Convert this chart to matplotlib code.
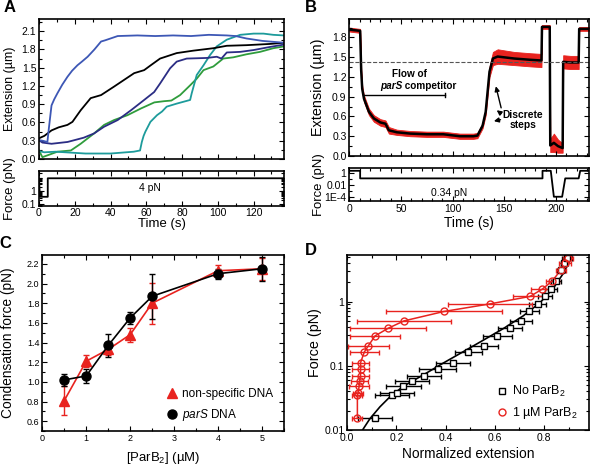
import matplotlib
matplotlib.use("Agg")
import matplotlib.pyplot as plt
from matplotlib import font_manager
from matplotlib.lines import Line2D
from matplotlib.ticker import AutoMinorLocator, FixedLocator, NullFormatter

plt.rcParams['font.family'] = ['Liberation Sans', 'DejaVu Sans']
plt.rcParams['mathtext.fontset'] = 'custom'
plt.rcParams['mathtext.rm'] = 'Liberation Sans'
plt.rcParams['mathtext.it'] = 'Liberation Sans:italic'
plt.rcParams['mathtext.bf'] = 'Liberation Sans:bold'

# axis labels in the reference use a condensed face
try:
    font_manager.findfont('Liberation Sans Narrow', fallback_to_default=False)
    LAB, LSCALE = 'Liberation Sans Narrow', 1.0
except ValueError:
    LAB, LSCALE = 'Liberation Sans', 0.9

# ---- panel A: extension traces (time s, extension um) ----
a_blue_t = [0, 2, 4.7, 5.5, 7, 8.5, 10.3, 13, 15.9, 18.5, 21.5, 24, 27.2, 31, 34.7, 37, 44, 55, 65, 75, 85, 95, 105, 110, 116, 125, 137]
a_blue_y = [0.31, 0.30, 0.28, 0.5, 0.88, 0.98, 1.08, 1.22, 1.35, 1.45, 1.54, 1.60, 1.68, 1.80, 1.93, 1.95, 2.02, 2.03, 2.02, 2.03, 2.02, 2.04, 2.03, 2.02, 1.98, 1.94, 1.91]
a_black_t = [0, 3, 7, 11, 15.9, 18.7, 23.3, 28.9, 34.7, 42, 47.6, 53.2, 58.8, 62.5, 67.7, 77, 86.3, 97.5, 105, 116, 129, 137]
a_black_y = [0.34, 0.38, 0.47, 0.52, 0.56, 0.61, 0.80, 1.0, 1.05, 1.19, 1.30, 1.41, 1.46, 1.54, 1.65, 1.74, 1.78, 1.82, 1.86, 1.87, 1.89, 1.91]
a_navy_t = [0, 1.9, 7, 16, 25, 30.8, 36.4, 44, 51.4, 58.8, 64.4, 67.7, 73.3, 77, 82.6, 93.8, 99.4, 102, 105, 112.5, 120, 129, 137]
a_navy_y = [0.31, 0.27, 0.25, 0.28, 0.35, 0.42, 0.53, 0.64, 0.80, 0.97, 1.10, 1.24, 1.49, 1.60, 1.65, 1.66, 1.68, 1.65, 1.75, 1.76, 1.79, 1.84, 1.88]
a_green_t = [0, 1.9, 4.7, 10.3, 17.8, 23.3, 30.8, 36.4, 42, 49.5, 57, 64.5, 70, 74, 78.9, 84.5, 88.2, 92, 97.5, 103, 108.6, 116, 123.6, 131, 137]
a_green_y = [0.14, 0.03, 0.06, 0.12, 0.14, 0.25, 0.42, 0.56, 0.64, 0.72, 0.83, 0.93, 0.95, 0.96, 1.05, 1.21, 1.32, 1.46, 1.52, 1.65, 1.67, 1.72, 1.76, 1.82, 1.85]
a_teal_t = [0, 3, 9.4, 26, 40, 53, 56.5, 57.5, 58.5, 59.5, 62.3, 66, 68.8, 71.4, 77, 84.5, 85.4, 88.2, 92, 95.7, 99.4, 105, 112.5, 120, 125.5, 131, 137]
a_teal_y = [0.13, 0.11, 0.12, 0.09, 0.09, 0.12, 0.14, 0.28, 0.38, 0.45, 0.61, 0.72, 0.78, 0.86, 0.91, 0.97, 1.08, 1.38, 1.54, 1.71, 1.85, 1.96, 2.04, 2.06, 2.06, 2.04, 2.03]
a_force_t = [0, 0.5, 4.9, 4.9, 137]
a_force_f = [8.2, 0.36, 0.36, 8.2, 8.2]

# ---- panel B: mean extension and noise half width ----
b_t = [0, 5, 10.5, 11.5, 12.5, 14.2, 19, 23.8, 30, 35, 38.3, 46, 59, 75, 91, 107, 120, 124, 129, 132, 134, 135.7, 139, 143.6, 159.6, 175.7, 186, 186.5, 194, 194.5, 198, 202, 206.5, 207, 214, 222, 222.5, 232]
b_ext = [1.92, 1.91, 1.90, 1.3, 1.02, 0.87, 0.67, 0.57, 0.51, 0.49, 0.39, 0.36, 0.34, 0.33, 0.33, 0.30, 0.30, 0.31, 0.46, 0.67, 1.0, 1.28, 1.48, 1.51, 1.48, 1.46, 1.45, 1.96, 1.96, 0.16, 0.2, 0.15, 0.12, 1.43, 1.42, 1.42, 1.93, 1.93]
b_noise = [0.03, 0.03, 0.03, 0.04, 0.05, 0.05, 0.05, 0.05, 0.05, 0.05, 0.05, 0.04, 0.04, 0.04, 0.04, 0.04, 0.04, 0.04, 0.04, 0.05, 0.07, 0.08, 0.10, 0.11, 0.10, 0.10, 0.10, 0.03, 0.03, 0.10, 0.14, 0.10, 0.07, 0.10, 0.10, 0.10, 0.03, 0.03]
b_force_t = [0, 10.5, 10.5, 187, 187, 195, 198, 206, 209, 222, 223.5, 232]
b_force_f = [2.4, 2.4, 0.126, 0.126, 2.4, 2.4, 1e-4, 1e-4, 0.126, 0.126, 2.4, 2.4]

# ---- panel C: condensation force ----
c_conc = [0.5, 1, 1.5, 2, 2.5, 4, 5]
c_nonspec = [0.81, 1.21, 1.33, 1.48, 1.80, 2.13, 2.15]
c_nonspec_err = [0.15, 0.06, 0.06, 0.07, 0.21, 0.06, 0.11]
c_pars = [1.02, 1.06, 1.37, 1.65, 1.87, 2.10, 2.15]
c_pars_err = [0.06, 0.07, 0.12, 0.06, 0.23, 0.05, 0.12]

# ---- panel D: force-extension ----
d_force = [0.0153, 0.0352, 0.0383, 0.0486, 0.0589, 0.0703, 0.090, 0.112, 0.163, 0.206, 0.292, 0.385, 0.50, 0.70, 0.92, 1.20, 1.56, 2.10, 3.12, 4.05, 4.74]
d_noparb = [0.113, 0.181, 0.201, 0.228, 0.262, 0.313, 0.368, 0.431, 0.491, 0.556, 0.610, 0.662, 0.705, 0.741, 0.775, 0.804, 0.829, 0.849, 0.869, 0.883, 0.893]
d_noparb_err = [0.07, 0.07, 0.07, 0.07, 0.07, 0.07, 0.075, 0.07, 0.055, 0.055, 0.06, 0.05, 0.045, 0.04, 0.035, 0.03, 0.025, 0.02, 0.015, 0.015, 0.02]
d_parb = [0.041, 0.041, 0.045, 0.048, 0.050, 0.054, 0.054, 0.054, 0.069, 0.086, 0.113, 0.167, 0.231, 0.393, 0.581, 0.743, 0.793, 0.834, 0.869, 0.886, 0.896]
d_parb_err = [0.02, 0.02, 0.02, 0.04, 0.035, 0.035, 0.035, 0.035, 0.06, 0.085, 0.10, 0.155, 0.19, 0.235, 0.17, 0.07, 0.045, 0.025, 0.02, 0.025, 0.02]
d_fit_x = [0.062, 0.092, 0.133, 0.174, 0.228, 0.309, 0.39, 0.472, 0.553, 0.635, 0.716, 0.784, 0.838, 0.879, 0.906, 0.913]
d_fit_f = [0.01, 0.015, 0.023, 0.033, 0.048, 0.072, 0.11, 0.166, 0.25, 0.38, 0.60, 0.96, 1.61, 2.76, 4.4, 5.1]

W, H = 590, 467
fig = plt.figure(figsize=(W / 100, H / 100), dpi=100)


def rect(l, t, r, b):
    return [l / W, 1 - b / H, (r - l) / W, (b - t) / H]


def style(ax, size=7.5):
    ax.tick_params(which='both', direction='in', top=True, right=True, labelsize=size, width=0.8, pad=2)
    ax.tick_params(which='major', length=3.5)
    ax.tick_params(which='minor', length=2)
    for s in ax.spines.values():
        s.set_linewidth(1.2)


def ylab(ax, text, size, xc):
    ax.set_ylabel(text, fontsize=size * LSCALE, family=LAB)
    ax.yaxis.set_label_coords(xc, 0.5)


def xlab(ax, text, size, yc):
    ax.set_xlabel(text, fontsize=size * LSCALE, family=LAB)
    ax.xaxis.set_label_coords(0.5, yc)


# ---------- A ----------
axA = fig.add_axes(rect(39, 19, 284, 159))
for tt, yy, col in [(a_green_t, a_green_y, '#2f9c3c'), (a_teal_t, a_teal_y, '#1d9b9b'),
                    (a_navy_t, a_navy_y, '#2b2d84'), (a_black_t, a_black_y, 'black'),
                    (a_blue_t, a_blue_y, '#3d57b5')]:
    axA.plot(tt, yy, color=col, lw=1.3)
axA.set_xlim(0, 137)
axA.set_ylim(0, 2.3)
axA.set_yticks([0, 0.3, 0.6, 0.9, 1.2, 1.5, 1.8, 2.1])
axA.set_yticklabels(['0.0', '0.3', '0.6', '0.9', '1.2', '1.5', '1.8', '2.1'])
axA.set_xticks(range(0, 140, 20))
axA.xaxis.set_minor_locator(AutoMinorLocator(2))
axA.yaxis.set_minor_locator(AutoMinorLocator(2))
axA.set_xticklabels([])
style(axA)
ylab(axA, 'Extension (µm)', 10, -0.095)

axAf = fig.add_axes(rect(39, 171, 284, 205.7))
axAf.plot(a_force_t, a_force_f, color='black', lw=1.3)
axAf.set_yscale('log')
axAf.set_xlim(0, 137)
axAf.set_ylim(0.08, 28)
axAf.yaxis.set_major_locator(FixedLocator([0.1, 1]))
axAf.set_yticklabels(['0.1', '1'])
axAf.yaxis.set_minor_formatter(NullFormatter())
axAf.set_xticks(range(0, 140, 20))
axAf.xaxis.set_minor_locator(AutoMinorLocator(2))
style(axAf)
axAf.text(62, 1.5, '4 pN', ha='center', va='center', fontsize=7.5)
ylab(axAf, 'Force (pN)', 10.5, -0.095)
xlab(axAf, 'Time (s)', 10.5, -0.35)

# ---------- B ----------
axB = fig.add_axes(rect(349.3, 19, 589, 156))
lo = [m - n for m, n in zip(b_ext, b_noise)]
hi = [m + n for m, n in zip(b_ext, b_noise)]
axB.fill_between(b_t, lo, hi, color='#e8231f', lw=0.6, edgecolor='#e8231f')
axB.plot(b_t, b_ext, color='black', lw=1.8)
axB.axhline(1.42, color='#555555', lw=0.8, ls='--')
axB.set_xlim(0, 232)
axB.set_ylim(0, 2.08)
axB.set_yticks([0, 0.3, 0.6, 0.9, 1.2, 1.5, 1.8])
axB.set_yticklabels(['0.0', '0.3', '0.6', '0.9', '1.2', '1.5', '1.8'])
axB.set_xticks(range(0, 250, 50))
axB.xaxis.set_minor_locator(AutoMinorLocator(5))
axB.yaxis.set_minor_locator(AutoMinorLocator(2))
axB.set_xticklabels([])
style(axB)
ylab(axB, 'Extension (µm)', 11.5, -0.10)
axB.text(58.5, 1.25, 'Flow of', ha='center', va='center', fontsize=8 * LSCALE, fontweight='bold', family=LAB)
axB.text(51, 1.07, 'parS', ha='right', va='center', fontsize=8 * LSCALE, fontweight='bold', fontstyle='italic', family=LAB)
axB.text(51, 1.07, ' competitor', ha='left', va='center', fontsize=8 * LSCALE, fontweight='bold', family=LAB)
axB.plot([14, 93], [0.93, 0.93], color='black', lw=1)
axB.plot([93, 93], [0.9, 0.96], color='black', lw=1)
axB.text(168, 0.63, 'Discrete', ha='center', va='center', fontsize=8.2 * LSCALE, fontweight='bold', family=LAB)
axB.text(168, 0.47, 'steps', ha='center', va='center', fontsize=8.2 * LSCALE, fontweight='bold', family=LAB)
for (x0, y0), (x1, y1) in [((147.6, 0.69), (141.2, 1.10)), ((149, 0.62), (140.5, 0.72)), ((149, 0.56), (137.3, 0.52))]:
    axB.annotate('', xy=(x1, y1), xytext=(x0, y0),
                 arrowprops=dict(arrowstyle='-|>', color='black', lw=1, mutation_scale=7))

axBf = fig.add_axes(rect(349.3, 167.7, 589, 201.3))
axBf.plot(b_force_t, b_force_f, color='black', lw=1.3)
axBf.set_yscale('log')
axBf.set_xlim(0, 232)
axBf.set_ylim(1.7e-5, 8)
axBf.yaxis.set_major_locator(FixedLocator([1e-4, 1e-2, 1]))
axBf.set_yticklabels(['1E-4', '0.01', '1'])
axBf.yaxis.set_minor_locator(FixedLocator([1e-3, 1e-1]))
axBf.yaxis.set_minor_formatter(NullFormatter())
axBf.set_xticks(range(0, 250, 50))
axBf.xaxis.set_minor_locator(AutoMinorLocator(5))
style(axBf)
axBf.text(97, 4.6e-4, '0.34 pN', ha='center', va='center', fontsize=7.5)
ylab(axBf, 'Force (pN)', 10.5, -0.10)
xlab(axBf, 'Time (s)', 11, -0.43)

# ---------- C ----------
axC = fig.add_axes(rect(42.3, 255, 284, 431))
axC.errorbar(c_conc, c_nonspec, yerr=c_nonspec_err, color='#e8231f', marker='^', ms=7,
             lw=1.2, capsize=2.5, elinewidth=1)
axC.errorbar(c_conc, c_pars, yerr=c_pars_err, color='black', marker='o', ms=6.5,
             lw=1.2, capsize=2.5, elinewidth=1)
axC.set_xlim(0, 5.5)
axC.set_ylim(0.5, 2.29)
axC.set_xticks(range(0, 6))
axC.set_yticks([0.6, 0.8, 1.0, 1.2, 1.4, 1.6, 1.8, 2.0, 2.2])
axC.xaxis.set_minor_locator(AutoMinorLocator(2))
axC.yaxis.set_minor_locator(AutoMinorLocator(2))
style(axC, size=6.5)
ylab(axC, 'Condensation force (pN)', 11, -0.115)
xlab(axC, '[ParB$_2$] (µM)', 10.5, -0.11)
c_handles = [Line2D([], [], color='#e8231f', marker='^', ls='none', ms=7),
             Line2D([], [], color='black', marker='o', ls='none', ms=6.5)]
axC.legend(c_handles, ['non-specific DNA', '$\\it{parS}$ DNA'], loc='lower right', frameon=False,
           fontsize=8.5, handletextpad=0.2, handlelength=1.4, borderaxespad=0.3, labelspacing=0.6,
           bbox_to_anchor=(0.99, 0.0))

# ---------- D ----------
axD = fig.add_axes(rect(347.3, 255, 589, 430))
axD.plot(d_fit_x, d_fit_f, color='black', lw=1.2)
axD.errorbar(d_noparb, d_force, xerr=d_noparb_err, color='black', marker='s', ms=4.5,
             mfc='white', mew=1, ls='none', capsize=1.8, elinewidth=1)
axD.plot(d_parb, d_force, color='#e8231f', lw=1.1)
axD.errorbar(d_parb, d_force, xerr=d_parb_err, color='#e8231f', marker='o', ms=5,
             mfc='none', mew=1, ls='none', capsize=1.8, elinewidth=1)
axD.set_yscale('log')
axD.set_xlim(0, 0.983)
axD.set_ylim(0.01, 5.3)
axD.set_xticks([0, 0.2, 0.4, 0.6, 0.8])
axD.set_xticklabels(['0.0', '0.2', '0.4', '0.6', '0.8'])
axD.xaxis.set_minor_locator(AutoMinorLocator(2))
axD.yaxis.set_major_locator(FixedLocator([0.01, 0.1, 1]))
axD.set_yticklabels(['0.01', '0.1', '1'])
axD.yaxis.set_minor_formatter(NullFormatter())
style(axD)
ylab(axD, 'Force (pN)', 11.5, -0.105)
xlab(axD, 'Normalized extension', 11, -0.10)
d_handles = [Line2D([], [], color='black', marker='s', ls='none', ms=4.5, mfc='white', mew=1),
             Line2D([], [], color='#e8231f', marker='o', ls='none', ms=5, mfc='none', mew=1)]
axD.legend(d_handles, ['No ParB$_2$', '1 µM ParB$_2$'], loc='lower right', frameon=False, fontsize=9,
           handletextpad=0.2, handlelength=1.2, borderaxespad=0.3, bbox_to_anchor=(0.99, 0.0))

# panel letters
for lab, x, y in [('A', 10, 7), ('B', 310.7, 7), ('C', 5, 243), ('D', 310.7, 250.7)]:
    fig.text(x / W, 1 - y / H, lab, ha='center', va='center', fontsize=12, fontweight='bold')

fig.savefig('out.png', dpi=100)
